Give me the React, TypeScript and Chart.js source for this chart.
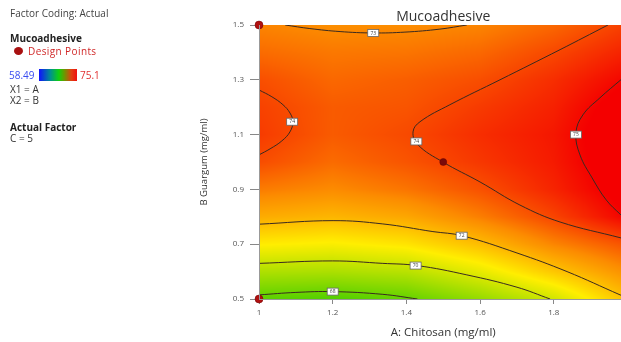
import React, { useEffect, useRef } from "react";
import { Chart, registerables } from "chart.js";

Chart.register(...registerables);

// ---------- data ----------
const chartTitle = "Mucoadhesive";
const xTitle = "A: Chitosan (mg/ml)";
const yTitle = "B Guargum (mg/ml)";

const xTicks = [1, 1.2, 1.4, 1.6, 1.8, 2];
const yTicks = [0.5, 0.7, 0.9, 1.1, 1.3, 1.5];

// response surface (columns = A values, rows = B values)
const aGrid = [1.0, 1.2, 1.4, 1.6, 1.8, 2.0];
const bGrid = [0.5, 0.6, 0.7, 0.8, 0.9, 1.0, 1.1, 1.2, 1.3, 1.4, 1.5];
const zB050 = [67.8, 67.6, 67.95, 68.9, 70.05, 71.95];
const zB060 = [69.4, 69.35, 69.6, 70.5, 71.75, 72.9];
const zB070 = [71.0, 70.85, 71.15, 71.95, 73.05, 73.85];
const zB080 = [72.3, 72.1, 72.4, 73.15, 74.05, 75.1];
const zB090 = [73.2, 72.95, 73.3, 73.85, 74.55, 75.4];
const zB100 = [73.93, 73.45, 73.8, 74.25, 74.7, 75.55];
const zB110 = [74.2, 73.7, 73.97, 74.4, 74.75, 75.6];
const zB120 = [74.1, 73.7, 73.8, 74.2, 74.6, 75.45];
const zB130 = [73.9, 73.5, 73.65, 73.9, 74.4, 75.05];
const zB140 = [73.45, 73.25, 73.3, 73.5, 74.0, 74.6];
const zB150 = [73.06, 72.9, 72.93, 73.05, 73.5, 74.15];
const surface = [zB050, zB060, zB070, zB080, zB090, zB100, zB110, zB120, zB130, zB140, zB150];

const colorMin = 58.49;
const colorMax = 75.1;

// contour lines (A, B)
const c68A = [1.0, 1.1, 1.2, 1.336, 1.43];
const c68B = [0.515, 0.524, 0.527, 0.517, 0.5];
const c70A = [1.0, 1.2, 1.336, 1.429, 1.564, 1.7, 1.79];
const c70B = [0.63, 0.639, 0.63, 0.622, 0.588, 0.543, 0.5];
const c72A = [1.0, 1.201, 1.336, 1.472, 1.551, 1.7, 1.836, 1.98, 2.0];
const c72B = [0.773, 0.786, 0.774, 0.746, 0.731, 0.668, 0.6, 0.515, 0.504];
const c73A = [1.071, 1.138, 1.22, 1.309, 1.396, 1.491, 1.564];
const c73B = [1.5, 1.487, 1.476, 1.471, 1.474, 1.485, 1.5];
const c74LeftA = [1.0, 1.035, 1.065, 1.084, 1.092, 1.084, 1.062, 1.03, 1.0];
const c74LeftB = [1.263, 1.238, 1.209, 1.179, 1.147, 1.11, 1.077, 1.048, 1.026];
const c74MidA = [1.947, 1.817, 1.654, 1.518, 1.437, 1.418, 1.431, 1.499, 1.6, 1.708, 1.817, 1.982, 2.0];
const c74MidB = [1.5, 1.41, 1.3, 1.209, 1.147, 1.11, 1.063, 1.0, 0.927, 0.843, 0.781, 0.723, 0.716];
const c75A = [2.0, 1.982, 1.925, 1.879, 1.86, 1.871, 1.904, 1.942, 1.982, 2.0];
const c75B = [1.32, 1.3, 1.234, 1.172, 1.106, 1.026, 0.942, 0.862, 0.807, 0.785];

const labelText = ["68", "70", "72", "73", "74", "74", "75"];
const labelA = [1.2, 1.425, 1.55, 1.31, 1.09, 1.427, 1.86];
const labelB = [0.527, 0.622, 0.731, 1.471, 1.147, 1.075, 1.1];

const designA = [1, 1, 1.5];
const designB = [1.5, 0.5, 1.0];

// ---------- helpers ----------
const toPts = (xs: number[], ys: number[]) => xs.map((v, i) => ({ x: v, y: ys[i] }));

function locate(arr: number[], v: number) {
  if (v <= arr[0]) return { i: 0, t: 0 };
  const n = arr.length - 1;
  if (v >= arr[n]) return { i: n - 1, t: 1 };
  for (let i = 0; i < n; i++) {
    if (v >= arr[i] && v <= arr[i + 1]) return { i, t: (v - arr[i]) / (arr[i + 1] - arr[i]) };
  }
  return { i: 0, t: 0 };
}

function surfaceAt(a: number, b: number) {
  const ca = locate(aGrid, a);
  const cb = locate(bGrid, b);
  const r0 = surface[cb.i];
  const r1 = surface[cb.i + 1];
  const v0 = r0[ca.i] * (1 - ca.t) + r0[ca.i + 1] * ca.t;
  const v1 = r1[ca.i] * (1 - ca.t) + r1[ca.i + 1] * ca.t;
  return v0 * (1 - cb.t) + v1 * cb.t;
}

const colorStops: [number, number, number, number][] = [
  [0.0, 0, 0, 255],
  [0.5, 40, 200, 0],
  [0.75, 255, 238, 0],
  [0.87, 252, 140, 0],
  [1.0, 244, 0, 0],
];

function colorFor(v: number) {
  let t = (v - colorMin) / (colorMax - colorMin);
  t = Math.max(0, Math.min(1, t));
  for (let i = 0; i < colorStops.length - 1; i++) {
    const s0 = colorStops[i];
    const s1 = colorStops[i + 1];
    if (t >= s0[0] && t <= s1[0]) {
      const f = (t - s0[0]) / (s1[0] - s0[0]);
      return [s0[1] + (s1[1] - s0[1]) * f, s0[2] + (s1[2] - s0[2]) * f, s0[3] + (s1[3] - s0[3]) * f];
    }
  }
  const l = colorStops[colorStops.length - 1];
  return [l[1], l[2], l[3]];
}

const heatPlugin = {
  id: "heatFill",
  beforeDatasetsDraw(chart: any) {
    const { ctx, chartArea, scales } = chart;
    const { left, top, right, bottom } = chartArea;
    const xs = scales.x;
    const ys = scales.y;
    const w = Math.ceil(right - left);
    const h = Math.ceil(bottom - top);
    if (w <= 0 || h <= 0) return;
    const off = document.createElement("canvas");
    off.width = w;
    off.height = h;
    const octx = off.getContext("2d")!;
    const img = octx.createImageData(w, h);
    for (let py = 0; py < h; py++) {
      const b = ys.getValueForPixel(top + py + 0.5);
      for (let px = 0; px < w; px++) {
        const a = xs.getValueForPixel(left + px + 0.5);
        const c = colorFor(surfaceAt(a, b));
        const k = (py * w + px) * 4;
        img.data[k] = c[0];
        img.data[k + 1] = c[1];
        img.data[k + 2] = c[2];
        img.data[k + 3] = 255;
      }
    }
    octx.putImageData(img, 0, 0);
    ctx.save();
    ctx.drawImage(off, left, top);
    ctx.restore();
  },
};

const labelPlugin = {
  id: "contourLabels",
  afterDatasetsDraw(chart: any) {
    const { ctx, scales } = chart;
    ctx.save();
    labelText.forEach((txt, i) => {
      const px = scales.x.getPixelForValue(labelA[i]);
      const py = scales.y.getPixelForValue(labelB[i]);
      const w = 11;
      const h = 7;
      ctx.fillStyle = "#ffffff";
      ctx.fillRect(px - w / 2, py - h / 2, w, h);
      ctx.strokeStyle = "#666";
      ctx.lineWidth = 0.8;
      ctx.strokeRect(px - w / 2, py - h / 2, w, h);
      ctx.fillStyle = "#444";
      ctx.font = '5px "Open Sans", sans-serif';
      ctx.textAlign = "center";
      ctx.textBaseline = "middle";
      ctx.fillText(txt, px, py + 0.3);
    });
    ctx.restore();
  },
};

const lineStyle = {
  showLine: true,
  borderColor: "#3a2a20",
  borderWidth: 1,
  pointRadius: 0,
  pointHoverRadius: 0,
  tension: 0.4,
  fill: false,
};

export default function App() {
  const ref = useRef<HTMLCanvasElement | null>(null);

  useEffect(() => {
    if (!ref.current) return;
    const tickFont = { family: '"Open Sans", sans-serif', size: 8 };
    const chart = new Chart(ref.current, {
      type: "scatter",
      data: {
        datasets: [
          {
            label: "Design Points",
            data: toPts(designA, designB),
            pointRadius: [4, 4, 3.5],
            backgroundColor: ["#b01010", "#b01010", "#7a0a0a"],
            borderColor: "#700000",
            borderWidth: 0.5,
            showLine: false,
            clip: false,
          } as any,
          { label: "68", data: toPts(c68A, c68B), ...lineStyle } as any,
          { label: "70", data: toPts(c70A, c70B), ...lineStyle } as any,
          { label: "72", data: toPts(c72A, c72B), ...lineStyle } as any,
          { label: "73", data: toPts(c73A, c73B), ...lineStyle } as any,
          { label: "74a", data: toPts(c74LeftA, c74LeftB), ...lineStyle } as any,
          { label: "74b", data: toPts(c74MidA, c74MidB), ...lineStyle } as any,
          { label: "75", data: toPts(c75A, c75B), ...lineStyle } as any,
        ],
      },
      options: {
        responsive: false,
        animation: false,
        events: [],
        layout: { padding: { left: 195, right: 12.5, top: 0, bottom: 0 } },
        plugins: {
          legend: { display: false },
          tooltip: { enabled: false },
          title: {
            display: true,
            text: chartTitle,
            fullSize: false,
            color: "#333",
            font: { family: '"Open Sans", sans-serif', size: 14, weight: "normal", lineHeight: 1.2 },
            padding: { top: 8.2, bottom: 0 },
          },
        },
        scales: {
          x: {
            type: "linear",
            min: 1,
            max: 2,
            afterBuildTicks: (s: any) => {
              s.ticks = xTicks.map((v) => ({ value: v }));
            },
            afterFit: (s: any) => {
              s.height = 43;
            },
            ticks: {
              font: tickFont,
              color: "#555",
              padding: 4,
              maxRotation: 0,
              autoSkip: false,
              callback: (v: any) => String(Math.round(Number(v) * 10) / 10),
            },
            grid: { display: true, drawOnChartArea: false, drawTicks: true, tickLength: 5, color: "#888" },
            border: { display: true, color: "#999", z: 1 },
            title: {
              display: true,
              text: xTitle,
              color: "#333",
              font: { family: '"Open Sans", sans-serif', size: 11.5, lineHeight: 1.2 },
              padding: { top: 2, bottom: 2.1 },
            },
          },
          y: {
            type: "linear",
            min: 0.5,
            max: 1.5,
            afterBuildTicks: (s: any) => {
              s.ticks = yTicks.map((v) => ({ value: v }));
            },
            afterFit: (s: any) => {
              s.width = 64;
            },
            ticks: {
              font: tickFont,
              color: "#555",
              padding: 6,
              autoSkip: false,
              callback: (v: any) => String(Math.round(Number(v) * 10) / 10),
            },
            grid: { display: true, drawOnChartArea: false, drawTicks: true, tickLength: 9, color: "#888" },
            border: { display: true, color: "#999", z: 1 },
            title: {
              display: true,
              text: yTitle,
              color: "#333",
              font: { family: '"Open Sans", sans-serif', size: 9.5, lineHeight: 1.2 },
              padding: { top: 4, bottom: 4 },
            },
          },
        },
      } as any,
      plugins: [heatPlugin, labelPlugin],
    });
    return () => chart.destroy();
  }, []);

  const txt: React.CSSProperties = {
    position: "absolute",
    whiteSpace: "nowrap",
    lineHeight: "12px",
    fontSize: 10,
    color: "#333",
  };

  return (
    <div
      style={{
        position: "fixed",
        left: 0,
        top: 0,
        width: 621,
        height: 342,
        overflow: "hidden",
        background: "#fff",
        fontFamily: '"Open Sans", sans-serif',
      }}
    >
      <canvas ref={ref} width={640} height={342} style={{ position: "absolute", left: 0, top: 0 }} />
      <div style={{ ...txt, left: 10, top: 6.7, color: "#444" }}>Factor Coding: Actual</div>
      <div style={{ ...txt, left: 10, top: 32, fontWeight: "bold", color: "#222" }}>Mucoadhesive</div>
      <div
        style={{
          position: "absolute",
          left: 14,
          top: 47,
          width: 9,
          height: 8,
          borderRadius: "50%",
          background: "#a81010",
        }}
      />
      <div style={{ ...txt, left: 28, top: 45, color: "#d02828", letterSpacing: 0.4 }}>Design Points</div>
      <div style={{ ...txt, left: 9, top: 69, color: "#3a4cf0" }}>58.49</div>
      <div
        style={{
          position: "absolute",
          left: 39,
          top: 69,
          width: 38,
          height: 12,
          background: "linear-gradient(to right, #1010ff 0%, #009090 30%, #10d010 52%, #60a000 65%, #e04010 85%, #f01010 100%)",
        }}
      />
      <div style={{ ...txt, left: 80, top: 69, color: "#e03030" }}>75.1</div>
      <div style={{ ...txt, left: 10, top: 83 }}>X1 = A</div>
      <div style={{ ...txt, left: 10, top: 94 }}>X2 = B</div>
      <div style={{ ...txt, left: 10, top: 121, fontWeight: "bold", color: "#222" }}>Actual Factor</div>
      <div style={{ ...txt, left: 10, top: 131.5 }}>C = 5</div>
    </div>
  );
}
